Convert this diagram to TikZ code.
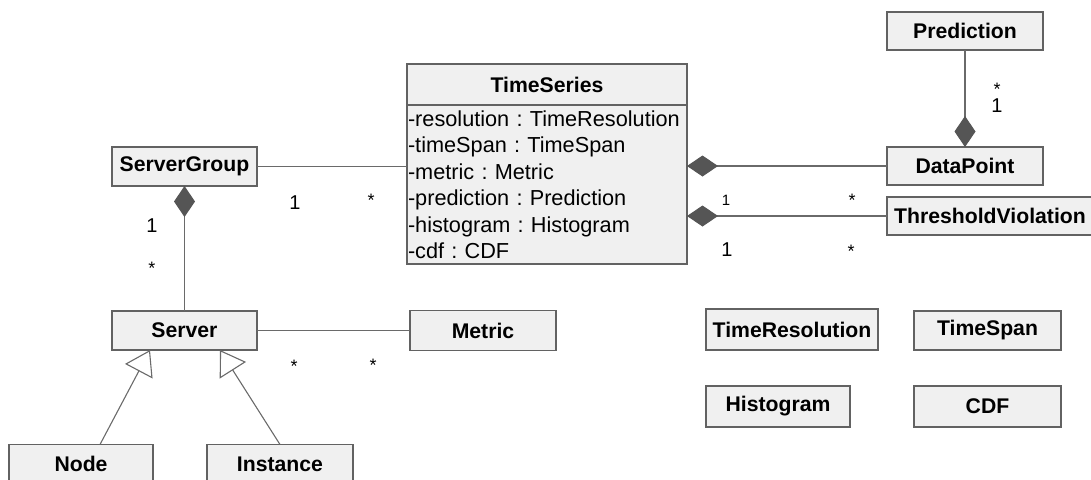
\documentclass[tikz,border=0pt]{standalone}
\usepackage{fontspec}
\setmainfont{Liberation Sans}
\frenchspacing
\usetikzlibrary{arrows.meta, positioning}
\definecolor{boxfill}{HTML}{F0F0F0}
\definecolor{boxline}{HTML}{626262}
\definecolor{linkgray}{HTML}{6A6A6A}
\definecolor{diagray}{HTML}{555555}

\begin{document}
\begin{tikzpicture}[x=0.5pt, y=-0.5pt,
        cls/.style={draw=boxline, fill=boxfill, line width=0.9pt, inner sep=0pt, outer sep=0pt,
            minimum width=72.5pt, minimum height=19.5pt,
            font=\fontsize{10.6}{12}\selectfont\bfseries},
        attrs/.style={draw=boxline, fill=boxfill, line width=0.9pt, inner xsep=0.5pt, inner ysep=0pt, outer sep=0pt,
            text width=139pt, minimum height=79.5pt, align=left,
            font=\fontsize{10.85}{13.25}\selectfont},
        link/.style={draw=linkgray, line width=0.55pt},
        comp/.style={link, -{Diamond[length=15.5pt, width=10.5pt, fill=diagray, color=diagray]}},
        inherit/.style={link, -{Triangle[open, length=12pt, width=15.5pt, fill=white]}},
        mult/.style={inner sep=0pt, font=\fontsize{10}{12}\selectfont},
        multsm/.style={inner sep=0pt, font=\fontsize{9}{11}\selectfont},
        multtiny/.style={inner sep=0pt, font=\fontsize{7.5}{9}\selectfont}]
        \useasboundingbox (0,0) rectangle (1091,479);

        % 1. TimeSeries
        \node[cls, anchor=north west, minimum width=140pt, minimum height=20.5pt] (ts) at (407,64) {TimeSeries};
        \node[attrs, below=0pt of ts] (tsattr) {-resolution : TimeResolution\\-timeSpan : TimeSpan\\-metric : Metric\\-prediction : Prediction\\-histogram : Histogram\\-cdf : CDF};

        % 2. 右侧的类
        \node[cls, minimum width=78pt, minimum height=19pt] (pred) at (965,31) {Prediction};
        \node[cls, minimum width=78pt, minimum height=19pt] (dp) at (965,166) {DataPoint};
        \node[cls, anchor=west, minimum width=103pt, minimum height=19pt] (tv) at (887,216) {ThresholdViolation};
        \node[cls, minimum width=86pt, minimum height=20.5pt] (tres) at (792,329.5) {TimeResolution};
        \node[cls, minimum width=73.5pt] (tspan) at (987.5,330.5) {TimeSpan};
        \node[cls, minimum width=72pt, minimum height=20.5pt] (hist) at (778,406.5) {Histogram};
        \node[cls, minimum width=73.5pt, minimum height=20.5pt] (cdf) at (987.5,406.5) {CDF};

        % 3. 左侧的类
        \node[cls] (sg) at (184.5,166.5) {ServerGroup};
        \node[cls] (srv) at (184.5,330.5) {Server};
        \node[cls, minimum width=73pt, minimum height=20pt] (metric) at (483,330.5) {Metric};
        \node[cls, minimum width=72pt] (nd) at (81,464) {Node};
        \node[cls, minimum width=73pt] (inst) at (280,464) {Instance};

        % 4. 关联
        \draw[link] (sg.east) -- (sg.east -| tsattr.west);
        \draw[link] (srv.east) -- (metric.west);
        \draw[comp] (dp.west) -- (dp.west -| tsattr.east);
        \draw[comp] (tv.west) -- (tv.west -| tsattr.east);
        \draw[comp] (pred.south) -- (dp.north);
        \draw[comp] (srv.north) -- (sg.south);
        \draw[inherit] ([xshift=9.5pt]nd.north) -- ([xshift=-17.25pt]srv.south);
        \draw[inherit] (inst.north) -- ([xshift=17.75pt]srv.south);

        % 5. 多重性
        \node[mult] (sgts1) at (295,203) {1};
        \node[multsm] (sgts2) at (371,200) {*};
        \node[mult] (sgsrv1) at (152,226) {1};
        \node[multsm] (sgsrv2) at (152,268) {*};
        \node[multsm] (srvm1) at (294,366) {*};
        \node[multsm] (srvm2) at (373,365) {*};
        \node[multsm] (pdp1) at (997,89) {*};
        \node[mult] (pdp2) at (997,106) {1};
        \node[multtiny] (tstv1) at (726,200) {1};
        \node[multsm] (tstv2) at (852,200) {*};
        \node[mult] (tstv3) at (727,250) {1};
        \node[multsm] (tstv4) at (851,251) {*};
    \end{tikzpicture}
\end{document}
